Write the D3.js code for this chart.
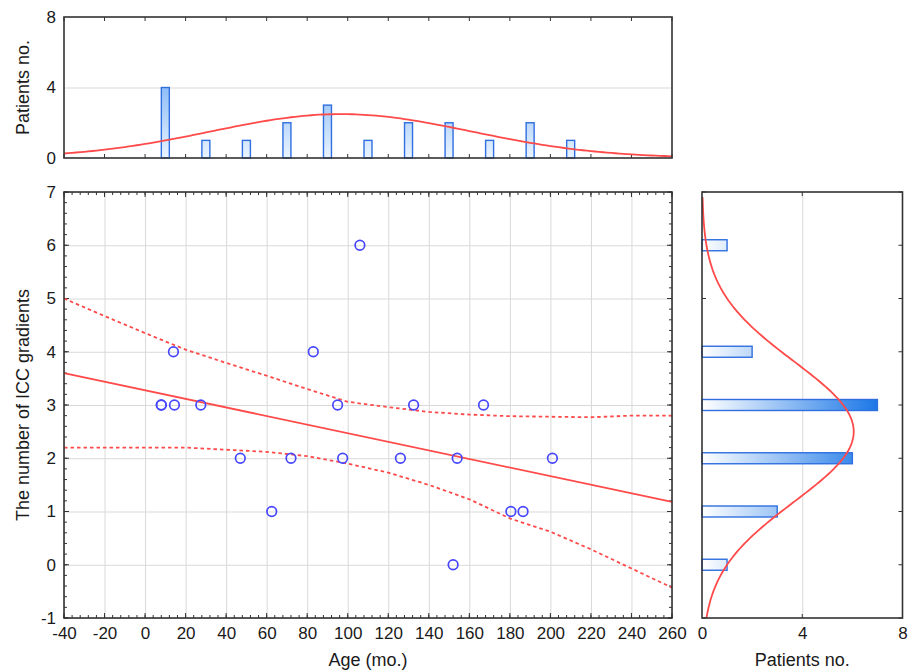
<!DOCTYPE html>
<html>
<head>
<meta charset="utf-8">
<script src="https://cdn.jsdelivr.net/npm/d3@7"></script>
<style>
  body { margin: 0; background: #fff; }
  svg { font-family: "Liberation Sans", Arial, sans-serif; }
  .grid line { stroke: #d9d9d9; stroke-width: 1; }
  .grid path { display: none; }
  .tick text { fill: #1a1a1a; font-size: 17px; }
</style>
</head>
<body>
<svg width="914" height="671"></svg>
<script>
// scatter points: age (months) and number of ICC gradients
const ages      = [8, 8, 14.5, 14, 27.5, 47, 62.5, 72, 83, 95, 97.5, 106, 126, 132.5, 152, 154, 167, 180.5, 186.5, 201];
const gradients = [3, 3, 3,    4,  3,    2,  1,    2,  4,  3,  2,    6,   2,   3,     0,   2,   3,   1,     1,     2];

// top histogram (age bins, width 20)
const ageBinCenters = [10, 30, 50, 70, 90, 110, 130, 150, 170, 190, 210];
const ageBinCounts  = [4, 1, 1, 2, 3, 1, 2, 2, 1, 2, 1];

// right histogram (gradients)
const gradLevels = [0, 1, 2, 3, 4, 5, 6];
const gradCounts = [1, 3, 6, 7, 2, 0, 1];

// regression line and confidence band
const regAges   = [-40, 260];
const regValues = [3.6, 1.18];
const bandAges  = [-40, -20, 0, 20, 40, 60, 80, 100, 120, 140, 160, 180, 200, 220, 240, 260];
const bandUpper = [5.0, 4.67, 4.35, 4.04, 3.79, 3.55, 3.3, 3.06, 2.96, 2.87, 2.82, 2.79, 2.78, 2.77, 2.8, 2.8];
const bandLower = [2.2, 2.2, 2.2, 2.2, 2.16, 2.12, 2.04, 1.9, 1.73, 1.5, 1.23, 0.87, 0.62, 0.29, -0.07, -0.43];

const xTicks = d3.range(-40, 261, 20);
const yTicks = d3.range(-1, 8, 1);
const countTicks = [0, 4, 8];

const red = '#ff4a4a';
const blue = '#4646ff';
const barStroke = '#2f6fe0';
const frame = '#333';

const svg = d3.select('svg');

// panel boxes
const mainBox = { l: 64, r: 672, t: 192, b: 618 };
const topBox = { l: 64, r: 672, t: 17, b: 158 };
const sideBox = { l: 702, r: 902.5, t: 192, b: 618 };

const x = d3.scaleLinear().domain([-40, 260]).range([mainBox.l, mainBox.r]);
const y = d3.scaleLinear().domain([-1, 7]).range([mainBox.b, mainBox.t]);
const yTop = d3.scaleLinear().domain([0, 8]).range([topBox.b, topBox.t]);
const xSide = d3.scaleLinear().domain([0, 8]).range([sideBox.l, sideBox.r]);

const plain = d => String(d);   // hyphen-minus like the original

// gradients for the bars
const defs = svg.append('defs');
const gH = defs.append('linearGradient').attr('id', 'gH')
  .attr('gradientUnits', 'userSpaceOnUse')
  .attr('x1', xSide(0)).attr('x2', xSide(7.2)).attr('y1', 0).attr('y2', 0);
gH.append('stop').attr('offset', 0).attr('stop-color', '#ffffff');
gH.append('stop').attr('offset', 1).attr('stop-color', '#1473e6');
const gV = defs.append('linearGradient').attr('id', 'gV')
  .attr('gradientUnits', 'userSpaceOnUse')
  .attr('x1', 0).attr('x2', 0).attr('y1', yTop(0)).attr('y2', yTop(7.5));
gV.append('stop').attr('offset', 0).attr('stop-color', '#eaf4ff');
gV.append('stop').attr('offset', 1).attr('stop-color', '#3f8ef0');

// ---------- main scatter ----------
svg.append('g').attr('class', 'grid')
  .attr('transform', `translate(0,${mainBox.b})`)
  .call(d3.axisBottom(x).tickValues(xTicks).tickSize(-(mainBox.b - mainBox.t)).tickFormat(''));
svg.append('g').attr('class', 'grid')
  .attr('transform', `translate(${mainBox.l},0)`)
  .call(d3.axisLeft(y).tickValues(yTicks).tickSize(-(mainBox.r - mainBox.l)).tickFormat(''));

// minor / major inner ticks on the frame sides
function innerTicks(g, vals, scale, pos, horiz, dir, len) {
  g.selectAll(null).data(vals).enter().append('line')
    .attr('x1', d => horiz ? scale(d) : pos)
    .attr('x2', d => horiz ? scale(d) : pos + dir * len)
    .attr('y1', d => horiz ? pos : scale(d))
    .attr('y2', d => horiz ? pos + dir * len : scale(d))
    .attr('stroke', frame).attr('stroke-width', 1);
}
const tk = svg.append('g');
const xMinor = d3.range(-40, 261, 4);
const yMinor = d3.range(-1, 7.01, 0.2);
innerTicks(tk, xMinor, x, mainBox.b, true, -1, 3);
innerTicks(tk, xMinor, x, mainBox.t, true, 1, 3);
innerTicks(tk, xTicks, x, mainBox.b, true, -1, 5);
innerTicks(tk, xTicks, x, mainBox.t, true, 1, 5);
innerTicks(tk, yMinor, y, mainBox.l, false, 1, 3);
innerTicks(tk, yMinor, y, mainBox.r, false, -1, 3);
innerTicks(tk, yTicks, y, mainBox.l, false, 1, 5);
innerTicks(tk, yTicks, y, mainBox.r, false, -1, 5);

const line = d3.line().x(d => x(d[0])).y(d => y(d[1]));
svg.append('path')
  .attr('d', line(bandAges.map((a, i) => [a, bandUpper[i]])))
  .attr('fill', 'none').attr('stroke', red).attr('stroke-width', 1.8).attr('stroke-dasharray', '3.5,3');
svg.append('path')
  .attr('d', line(bandAges.map((a, i) => [a, bandLower[i]])))
  .attr('fill', 'none').attr('stroke', red).attr('stroke-width', 1.8).attr('stroke-dasharray', '3.5,3');
svg.append('path')
  .attr('d', line(regAges.map((a, i) => [a, regValues[i]])))
  .attr('fill', 'none').attr('stroke', red).attr('stroke-width', 1.8);

svg.append('g').selectAll('circle')
  .data(ages.map((a, i) => [a, gradients[i]]))
  .enter().append('circle')
  .attr('cx', d => x(d[0])).attr('cy', d => y(d[1])).attr('r', 4.8)
  .attr('fill', 'none').attr('stroke', blue).attr('stroke-width', 1.7);

svg.append('rect')
  .attr('x', mainBox.l).attr('y', mainBox.t)
  .attr('width', mainBox.r - mainBox.l).attr('height', mainBox.b - mainBox.t)
  .attr('fill', 'none').attr('stroke', frame).attr('stroke-width', 1.6);

svg.append('g')
  .attr('transform', `translate(0,${mainBox.b})`)
  .call(d3.axisBottom(x).tickValues(xTicks).tickSize(0).tickPadding(9).tickFormat(plain))
  .call(g => g.select('.domain').remove());
svg.append('g')
  .attr('transform', `translate(${mainBox.l},0)`)
  .call(d3.axisLeft(y).tickValues(yTicks).tickSize(0).tickPadding(8).tickFormat(plain))
  .call(g => g.select('.domain').remove());

// ---------- top histogram ----------
svg.append('g').attr('class', 'grid')
  .attr('transform', `translate(${topBox.l},0)`)
  .call(d3.axisLeft(yTop).tickValues([4]).tickSize(-(topBox.r - topBox.l)).tickFormat(''));
const tk2 = svg.append('g');
innerTicks(tk2, xTicks, x, topBox.t, true, 1, 4);
innerTicks(tk2, xTicks, x, topBox.b, true, -1, 4);

svg.append('g').selectAll('rect')
  .data(ageBinCenters.map((c, i) => [c, ageBinCounts[i]]))
  .enter().append('rect')
  .attr('x', d => x(d[0]) - 4).attr('width', 8)
  .attr('y', d => yTop(d[1])).attr('height', d => yTop(0) - yTop(d[1]))
  .attr('fill', 'url(#gV)').attr('stroke', barStroke).attr('stroke-width', 1.4);

const ageMean = d3.mean(ages), ageSd = d3.deviation(ages);
const ageNorm = a => ages.length * 20 / (ageSd * Math.sqrt(2 * Math.PI)) * Math.exp(-0.5 * ((a - ageMean) / ageSd) ** 2);
svg.append('path')
  .attr('d', d3.line().x(a => x(a)).y(a => yTop(ageNorm(a)))(d3.range(-40, 260.1, 2)))
  .attr('fill', 'none').attr('stroke', red).attr('stroke-width', 1.8);

svg.append('rect')
  .attr('x', topBox.l).attr('y', topBox.t)
  .attr('width', topBox.r - topBox.l).attr('height', topBox.b - topBox.t)
  .attr('fill', 'none').attr('stroke', frame).attr('stroke-width', 1.6);
svg.append('g')
  .attr('transform', `translate(${topBox.l},0)`)
  .call(d3.axisLeft(yTop).tickValues(countTicks).tickSize(0).tickPadding(8).tickFormat(plain))
  .call(g => g.select('.domain').remove());

// ---------- side histogram ----------
svg.append('g').attr('class', 'grid')
  .attr('transform', `translate(0,${sideBox.b})`)
  .call(d3.axisBottom(xSide).tickValues([4]).tickSize(-(sideBox.b - sideBox.t)).tickFormat(''));
const tk3 = svg.append('g');
innerTicks(tk3, yTicks, y, sideBox.l, false, 1, 4);
innerTicks(tk3, yTicks, y, sideBox.r, false, -1, 4);
innerTicks(tk3, [4], xSide, sideBox.t, true, 1, 4);
innerTicks(tk3, [4], xSide, sideBox.b, true, -1, 4);

svg.append('g').selectAll('rect')
  .data(gradLevels.map((l, i) => [l, gradCounts[i]]).filter(d => d[1] > 0))
  .enter().append('rect')
  .attr('x', xSide(0)).attr('width', d => xSide(d[1]) - xSide(0))
  .attr('y', d => y(d[0]) - 5.5).attr('height', 11)
  .attr('fill', 'url(#gH)').attr('stroke', barStroke).attr('stroke-width', 1.4);

const gMean = d3.mean(gradients), gSd = d3.deviation(gradients);
const gNorm = v => gradients.length / (gSd * Math.sqrt(2 * Math.PI)) * Math.exp(-0.5 * ((v - gMean) / gSd) ** 2);
svg.append('path')
  .attr('d', d3.line().x(v => xSide(gNorm(v))).y(v => y(v))(d3.range(-1, 6.91, 0.05)))
  .attr('fill', 'none').attr('stroke', red).attr('stroke-width', 1.8);

svg.append('rect')
  .attr('x', sideBox.l).attr('y', sideBox.t)
  .attr('width', sideBox.r - sideBox.l).attr('height', sideBox.b - sideBox.t)
  .attr('fill', 'none').attr('stroke', frame).attr('stroke-width', 1.6);
svg.append('g')
  .attr('transform', `translate(0,${sideBox.b})`)
  .call(d3.axisBottom(xSide).tickValues(countTicks).tickSize(0).tickPadding(9).tickFormat(plain))
  .call(g => g.select('.domain').remove());

// ---------- titles ----------
const titleSize = 18;
svg.append('text')
  .attr('x', (mainBox.l + mainBox.r) / 2).attr('y', 666)
  .attr('text-anchor', 'middle').attr('font-size', titleSize).attr('fill', '#1a1a1a')
  .text('Age (mo.)');
svg.append('text')
  .attr('x', (sideBox.l + sideBox.r) / 2).attr('y', 666)
  .attr('text-anchor', 'middle').attr('font-size', titleSize).attr('fill', '#1a1a1a')
  .text('Patients no.');
svg.append('text')
  .attr('transform', `translate(29,${(mainBox.t + mainBox.b) / 2}) rotate(-90)`)
  .attr('text-anchor', 'middle').attr('font-size', titleSize).attr('fill', '#1a1a1a')
  .text('The number of ICC gradients');
svg.append('text')
  .attr('transform', `translate(29,${(topBox.t + topBox.b) / 2}) rotate(-90)`)
  .attr('text-anchor', 'middle').attr('font-size', titleSize).attr('fill', '#1a1a1a')
  .text('Patients no.');
</script>
</body>
</html>
